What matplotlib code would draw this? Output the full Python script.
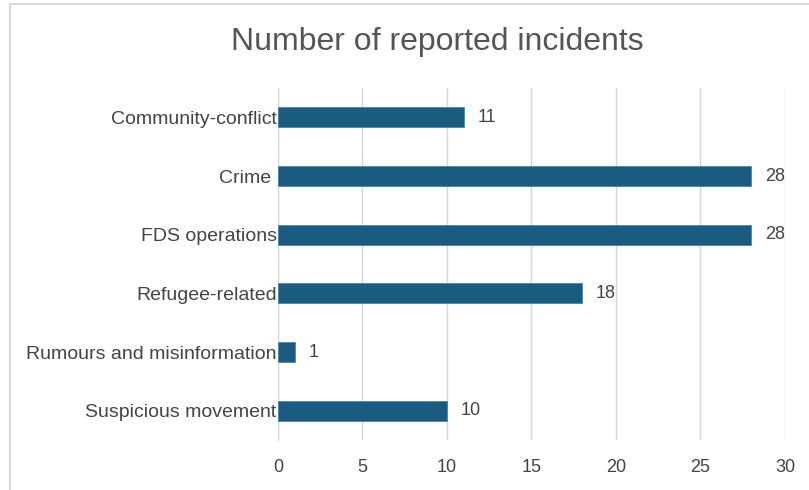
import matplotlib
matplotlib.use("Agg")
import matplotlib.pyplot as plt
from matplotlib.patches import Rectangle

plt.rcParams['font.family'] = ['Liberation Sans', 'DejaVu Sans']

# data
categories = ["Community-conflict", "Crime ", "FDS operations", "Refugee-related",
              "Rumours and misinformation", "Suspicious movement"]
counts = [11, 28, 28, 18, 1, 10]
xticks = [0, 5, 10, 15, 20, 25, 30]

bar_color = "#1a5c80"
text_color = "#444444"
grid_color = "#d6d6d6"

fig = plt.figure(figsize=(8.09, 4.9), dpi=100)
ax = fig.add_axes([0.3436, 0.102, 0.6267, 0.7184])

# outer frame of the chart box (right and bottom lie outside the picture)
fig.patches.append(Rectangle((9.5 / 809, -0.1), 1.2, 1 - 4.5 / 490 + 0.1,
                             transform=fig.transFigure, fill=False,
                             edgecolor="#d0d0d0", linewidth=1.2))

ypos = list(range(len(categories)))
ax.barh(ypos, counts, height=0.34, color=bar_color, edgecolor="#4d86a6",
        linewidth=0.6, zorder=3)

for y, v in zip(ypos, counts):
    ax.text(v + 0.8, y, str(v), va="center", ha="left", fontsize=13,
            color=text_color)

ax.set_ylim(len(categories) - 0.5, -0.5)
ax.set_xlim(0, 30)
ax.set_xticks(xticks)
ax.set_yticks(ypos)
ax.set_yticklabels(categories)
ax.grid(axis="x", color=grid_color, linewidth=1.0, zorder=0)
ax.set_axisbelow(True)
for s in ["top", "right", "bottom"]:
    ax.spines[s].set_visible(False)
ax.spines["left"].set_color(grid_color)
ax.tick_params(axis="y", length=0, pad=1, labelsize=14, labelcolor=text_color)
ax.tick_params(axis="x", length=0, pad=14, labelsize=13, labelcolor=text_color)

fig.text(437 / 809, 1 - 42 / 490, "Number of reported incidents", ha="center",
         va="center", fontsize=23, color="#555555")

fig.savefig("out.png", dpi=100)
